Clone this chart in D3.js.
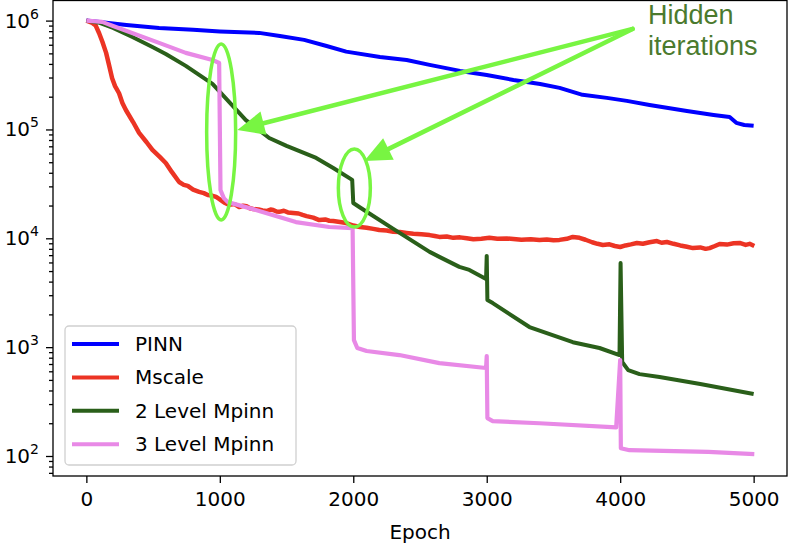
<!DOCTYPE html>
<html>
<head>
<meta charset="utf-8">
<script src="https://cdn.jsdelivr.net/npm/d3@7"></script>
<style>
  body { margin: 0; background: #fff; }
  svg { display: block; font-family: "DejaVu Sans", sans-serif; }
  .axis path { display: none; }
  .axis line { stroke: #000; stroke-width: 1.3; }
</style>
</head>
<body>
<svg id="chart" width="789" height="545"></svg>
<script>
// loss curves, [epoch, loss]
var pinn = [[0,1e6],[100,9.73e5],[300,9.13e5],[545,8.57e5],[800,8.22e5],[1000,7.96e5],[1295,7.71e5],
  [1450,7.22e5],[1632,6.65e5],[1800,5.85e5],[1947,5.19e5],[2200,4.64e5],[2400,4.35e5],[2572,3.92e5],
  [2800,3.45e5],[3000,3.17e5],[3200,2.85e5],[3400,2.62e5],[3546,2.41e5],[3718,2.08e5],[3900,1.95e5],
  [4050,1.83e5],[4220,1.68e5],[4500,1.48e5],[4700,1.36e5],[4820,1.30e5],[4870,1.15e5],[4930,1.10e5],[5000,1.08e5]];

var mscale = [[0,1e6],[45,9.53e5],[70,9.0e5],[95,7.7e5],[120,6.4e5],[148,5.05e5],[170,3.9e5],[193,2.95e5],
  [215,2.5e5],[245,2.15e5],[270,1.75e5],[296,1.51e5],[350,1.17e5],[395,9.29e4],[450,7.67e4],[495,6.48e4],
  [550,5.59e4],[595,4.92e4],[640,4.07e4],[695,3.29e4],[730,3.1e4],[760,3.03e4],[800,2.8e4],[845,2.67e4],
  [880,2.6e4],[910,2.50e4],[940,2.47e4],[972,2.40e4],
  [1000,2.28e4],[1035,2.12e4],[1070,2.03e4],[1110,2.06e4],[1145,1.94e4],[1175,1.99e4],[1200,1.97e4],
  [1225,1.89e4],[1250,1.86e4],[1290,1.84e4],[1320,1.80e4],[1350,1.78e4],[1380,1.84e4],[1400,1.82e4],
  [1425,1.76e4],[1445,1.75e4],[1480,1.79e4],[1510,1.73e4],[1550,1.71e4],[1590,1.69e4],[1620,1.64e4],
  [1650,1.60e4],[1700,1.55e4],[1745,1.47e4],[1790,1.49e4],[1820,1.45e4],[1850,1.44e4],[1900,1.41e4],
  [1947,1.38e4],[2000,1.31e4],[2050,1.27e4],[2100,1.25e4],[2150,1.22e4],[2195,1.19e4],[2250,1.18e4],
  [2300,1.15e4],[2350,1.14e4],[2400,1.12e4],[2450,1.10e4],[2510,1.09e4],[2572,1.07e4],[2610,1.05e4],
  [2645,1.03e4],[2700,1.04e4],[2750,1.01e4],[2800,1.02e4],[2850,1.0e4],[2900,9.8e3],[2960,9.9e3],
  [3020,1.01e4],[3080,9.9e3],[3150,9.95e3],[3200,9.86e3],[3260,9.7e3],[3330,9.8e3],[3395,9.67e3],
  [3450,9.75e3],[3500,9.6e3],[3545,9.67e3],[3600,9.9e3],[3645,1.03e4],[3695,1.01e4],[3740,9.7e3],
  [3790,9.2e3],[3830,8.9e3],[3870,8.69e3],[3920,8.8e3],[3960,8.5e3],[4000,8.32e3],[4040,8.6e3],
  [4080,8.8e3],[4125,9.06e3],[4170,8.9e3],[4220,9.2e3],[4275,9.44e3],[4310,9.1e3],[4350,9.25e3],
  [4400,8.9e3],[4450,8.6e3],[4500,8.35e3],[4545,8.13e3],[4600,8.25e3],[4640,8.0e3],[4670,8.13e3],
  [4710,8.5e3],[4745,8.87e3],[4800,8.75e3],[4850,9.0e3],[4895,9.06e3],[4940,8.7e3],[4970,8.9e3],[5005,8.5e3]];

var mpinn2 = [[0,1e6],[100,9.53e5],[200,8.57e5],[345,7.08e5],[495,5.73e5],[595,4.94e5],[745,3.84e5],
  [945,2.62e5],[1195,1.22e5],[1370,8.35e4],[1500,7.06e4],[1722,5.47e4],[1850,4.43e4],
  [1992,3.44e4],[2000,2.11e4],[2045,1.94e4],[2300,1.22e4],[2572,7.5e3],[2645,6.75e3],[2795,5.46e3],
  [2870,5.12e3],[2995,4.23e3],[3000,6.89e3],[3005,2.71e3],[3045,2.54e3],[3320,1.53e3],[3645,1.11e3],
  [3845,982],[3995,846],[4003,5.93e3],[4015,730],[4060,615],[4145,565],[4295,531],[4600,458],[5000,371]];

var mpinn3 = [[0,1e6],[118,9.73e5],[200,8.93e5],[545,6.24e5],[745,5.05e5],[945,4.35e5],[995,4.08e5],
  [1005,2.78e4],[1030,2.34e4],[1060,2.15e4],[1270,1.82e4],[1570,1.41e4],[1820,1.27e4],[1995,1.24e4],
  [2005,1.16e3],[2030,982],[2100,921],[2345,846],[2645,714],[2995,643],[3000,828],[3005,223],[3045,209],
  [3395,200],[3970,183],[4000,762],[4005,118],[4070,113],[4660,109],[5005,104]];

var seriesNames = ["PINN", "Mscale", "2 Level Mpinn", "3 Level Mpinn"];
var seriesColors = ["#0000ff", "#ec3424", "#2a5f1a", "#e889e6"];
var seriesWidths = [4, 4.5, 4, 4.2];
var allSeries = [pinn, mscale, mpinn2, mpinn3];

var epochTicks = [0, 1000, 2000, 3000, 4000, 5000];
var decadeTicks = [2, 3, 4, 5, 6];

// annotation anchors in data units
var noteFrom = [4093, 8.39e5];
var noteTips = [[1131, 9.9e4], [2082, 5.14e4]];
var noteRings = [[1010, 9.5e4, 14.5, 88], [2008, 2.9e4, 16, 39]];
var noteText = ["Hidden", "iterations"];

var svg = d3.select("#chart");
var plotLeft = 53, plotRight = 787, plotTop = 0.5, plotBottom = 476;

var x = d3.scaleLinear().domain([-250, 5250]).range([plotLeft, plotRight]);
var y = d3.scaleLog().domain([65.5, 1.53e6]).range([plotBottom, plotTop]);

svg.append("clipPath").attr("id", "clip")
  .append("rect").attr("x", plotLeft).attr("y", plotTop)
  .attr("width", plotRight - plotLeft).attr("height", plotBottom - plotTop);

// x axis
var xAxis = svg.append("g").attr("class", "axis")
  .attr("transform", "translate(0," + plotBottom + ")")
  .call(d3.axisBottom(x).tickValues(epochTicks).tickSize(7).tickPadding(9).tickFormat(d3.format("d")));
xAxis.selectAll("text").attr("font-size", 20).attr("fill", "#000")
  .attr("font-family", "DejaVu Sans");

// y axis: major + minor ticks
var minor = [];
for (var e = 1; e <= 6; e++) {
  for (var m = 2; m <= 9; m++) {
    var v = m * Math.pow(10, e);
    if (v > 65.5 && v < 1.53e6) minor.push(v);
  }
}
svg.append("g").attr("class", "axis")
  .attr("transform", "translate(" + plotLeft + ",0)")
  .call(d3.axisLeft(y).tickValues(minor).tickSize(4).tickFormat(""));
svg.append("g").attr("class", "axis")
  .attr("transform", "translate(" + plotLeft + ",0)")
  .call(d3.axisLeft(y).tickValues(decadeTicks.map(function(d){ return Math.pow(10, d); })).tickSize(7).tickFormat(""));

var ylab = svg.append("g").selectAll("text")
  .data(decadeTicks).enter().append("text")
  .attr("x", plotLeft - 14)
  .attr("y", function(d){ return y(Math.pow(10, d)) + 7; })
  .attr("text-anchor", "end")
  .attr("font-size", 20);
ylab.append("tspan").text("10");
ylab.append("tspan").attr("font-size", 14).attr("dy", -9).text(function(d){ return d; });

svg.append("text").attr("x", (plotLeft + plotRight) / 2).attr("y", 539)
  .attr("text-anchor", "middle").attr("font-size", 20).text("Epoch");

// curves
var line = d3.line().x(function(d){ return x(d[0]); }).y(function(d){ return y(d[1]); });
svg.append("g").attr("clip-path", "url(#clip)")
  .selectAll("path").data(allSeries).enter().append("path")
  .attr("d", line)
  .attr("fill", "none")
  .attr("stroke", function(d, i){ return seriesColors[i]; })
  .attr("stroke-width", function(d, i){ return seriesWidths[i]; })
  .attr("stroke-linejoin", "round")
  .attr("stroke-linecap", "butt");

// frame
svg.append("rect").attr("x", plotLeft).attr("y", plotTop)
  .attr("width", plotRight - plotLeft).attr("height", plotBottom - plotTop)
  .attr("fill", "none").attr("stroke", "#000").attr("stroke-width", 1.3);

// legend
var lg = svg.append("g");
lg.append("rect").attr("x", 65).attr("y", 326).attr("width", 231).attr("height", 139)
  .attr("rx", 4).attr("fill", "#fff").attr("fill-opacity", 0.8)
  .attr("stroke", "#d0d0d0").attr("stroke-width", 1.3);
var rows = lg.selectAll("g.row").data(seriesNames).enter().append("g")
  .attr("transform", function(d, i){ return "translate(0," + (344 + i * 33.4) + ")"; });
rows.append("line").attr("x1", 72).attr("x2", 119)
  .attr("stroke", function(d, i){ return seriesColors[i]; }).attr("stroke-width", 4);
rows.append("text").attr("x", 135).attr("y", 7).attr("font-size", 20).text(function(d){ return d; });

// "Hidden iterations" annotation
var green = "#78f542";
var note = svg.append("g");
note.selectAll("ellipse").data(noteRings).enter().append("ellipse")
  .attr("cx", function(d){ return x(d[0]); })
  .attr("cy", function(d){ return y(d[1]); })
  .attr("rx", function(d){ return d[2]; })
  .attr("ry", function(d){ return d[3]; })
  .attr("fill", "none").attr("stroke", green).attr("stroke-width", 3.5);

var fx = x(noteFrom[0]), fy = y(noteFrom[1]);
noteTips.forEach(function(t){
  var tx = x(t[0]), ty = y(t[1]);
  var dx = tx - fx, dy = ty - fy, len = Math.sqrt(dx * dx + dy * dy);
  var ux = dx / len, uy = dy / len, hl = 27, hw = 12;
  var bx = tx - ux * hl, by = ty - uy * hl;
  note.append("line").attr("x1", fx).attr("y1", fy).attr("x2", bx + ux * 2).attr("y2", by + uy * 2)
    .attr("stroke", green).attr("stroke-width", 4.5).attr("stroke-linecap", "round");
  note.append("path")
    .attr("d", "M" + tx + "," + ty + "L" + (bx - uy * hw) + "," + (by + ux * hw) + "L" + (bx + uy * hw) + "," + (by - ux * hw) + "Z")
    .attr("fill", green);
});

note.selectAll("text.lbl").data(noteText).enter().append("text")
  .attr("x", 648).attr("y", function(d, i){ return 24 + i * 31; })
  .attr("font-family", "Liberation Sans, Arial, sans-serif").attr("font-size", 27)
  .attr("fill", "#4b7a2e").text(function(d){ return d; });
</script>
</body>
</html>
